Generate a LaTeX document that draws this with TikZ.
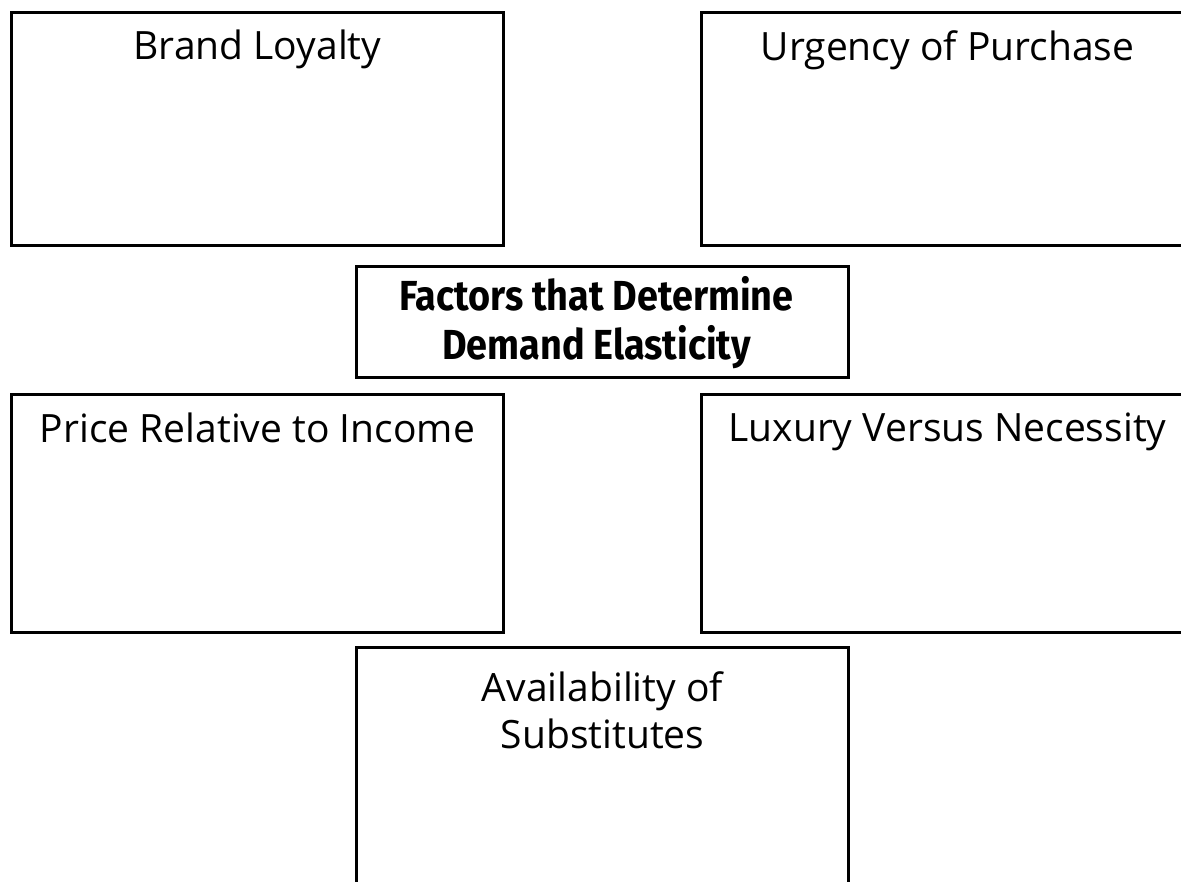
\documentclass[tikz,border=0pt]{standalone}
\usepackage{fontspec}
\setsansfont{Open Sans}
\newfontfamily\titlefont[FakeStretch=0.9]{Fira Sans}
\begin{document}
\begin{tikzpicture}[x=1pt,y=-1pt,
  box/.style={draw=black,line width=3pt,rectangle,inner sep=0pt,anchor=north west},
  lbl/.style={anchor=north,inner sep=0pt,font=\sffamily\fontsize{39}{47}\selectfont,align=center},
  ttl/.style={anchor=center,inner sep=0pt,font=\titlefont\bfseries\fontsize{42}{49}\selectfont,align=center}]
\useasboundingbox (0,0) rectangle (1181,882);
\clip (0,0) rectangle (1181,882);
\node[box,minimum width=492pt,minimum height=233pt] (bl) at (10,11) {};
\node[box,minimum width=492pt,minimum height=233pt] (up) at (700,11) {};
\node[box,minimum width=492pt,minimum height=111pt] (fd) at (355,265) {};
\node[box,minimum width=492pt,minimum height=238pt] (pr) at (10,393) {};
\node[box,minimum width=492pt,minimum height=238pt] (lv) at (700,393) {};
\node[box,minimum width=492pt,minimum height=260pt] (av) at (355,646) {};
\node[lbl] (tbl) at ([yshift=-19pt]bl.north) {Brand Loyalty};
\node[lbl] (tup) at ([yshift=-19pt]up.north) {Urgency of Purchase};
\node[ttl] (tfd) at ([xshift=-6pt,yshift=-1pt]fd.center) {Factors that Determine\\Demand Elasticity};
\node[lbl] (tpr) at ([yshift=-20pt]pr.north) {Price Relative to Income};
\node[lbl] (tlv) at ([yshift=-20pt]lv.north) {Luxury Versus Necessity};
\node[lbl] (tav) at ([yshift=-25pt]av.north) {Availability of\\Substitutes};
\end{tikzpicture}
\end{document}
